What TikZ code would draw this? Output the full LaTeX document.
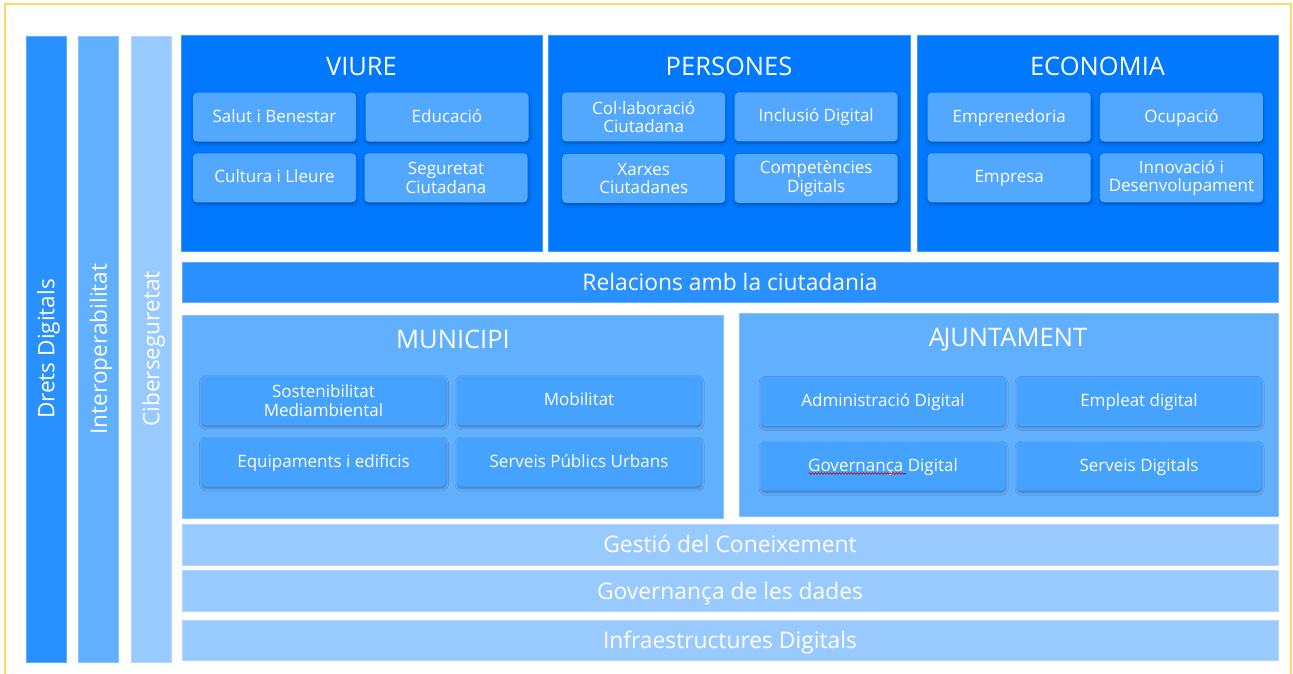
\documentclass[tikz,border=0pt]{standalone}
\usepackage{fontspec}
\setmainfont{Open Sans}
\usetikzlibrary{shadows.blur}
\usetikzlibrary{decorations.pathmorphing}

\definecolor{darkblue}{HTML}{0078FF}
\definecolor{midblue}{HTML}{2990FF}
\definecolor{lightblue}{HTML}{61AFFF}
\definecolor{paleblue}{HTML}{99CAFF}
\definecolor{topcell}{HTML}{52A7FF}
\definecolor{lowcell}{HTML}{45A2FF}
\definecolor{frameyellow}{HTML}{FFD966}

\begin{document}
\begin{tikzpicture}[x=1pt,y=-1pt,
	panel/.style={rectangle,fill=#1,draw=#1!75!white,line width=0.8,inner sep=0,outer sep=0},
	bar/.style={panel=#1,rotate=90,minimum width=626,minimum height=40,text=white,text height=16.5pt,text depth=0pt,
		font=\fontsize{22.6}{26}\selectfont},
	band/.style={panel=#1,minimum width=1096,minimum height=40.5,text=white,text height=16.5pt,text depth=0pt,
		font=\fontsize{22.8}{26}\selectfont},
	title/.style={text=white,inner sep=0,anchor=base,font=\fontsize{25.5}{30}\selectfont},
	cell/.style={rectangle,rounded corners=4,fill=#1,minimum height=49,inner sep=0,align=center,text=white,
		font=\fontsize{17}{18.5}\selectfont,
		blur shadow={shadow xshift=0.5pt,shadow yshift=-2pt,shadow blur radius=2.5pt,shadow opacity=28}},
	one/.style={text height=10pt,text depth=0pt},
	two/.style={}]
		\useasboundingbox (0,0) rectangle (1293,673);
		
		% draw yellow frame
		\draw[frameyellow,line width=1.5] (5,4) rectangle (1291,700);
		
		% draw vertical bars
		\node[bar=midblue] (drets) at (46,349) {Drets Digitals};
		\node[bar=lightblue] (interop) at (98.5,349) {Interoperabilitat};
		\node[bar=paleblue] (ciber) at (151,349) {Ciberseguretat};
		
		% draw top panels
		\node[panel=darkblue,minimum width=361,minimum height=216] (viure) at (361.5,143) {};
		\node[panel=darkblue,minimum width=362,minimum height=216] (persones) at (729,143) {};
		\node[panel=darkblue,minimum width=361,minimum height=216] (economia) at (1097.5,143) {};
		\node[title] (viure-t) at ([yshift=-40]viure.north) {VIURE};
		\node[title] (persones-t) at ([yshift=-40]persones.north) {PERSONES};
		\node[title] (economia-t) at ([yshift=-40]economia.north) {ECONOMIA};
		
		% draw cells of top panels
		\foreach \n/\x/\y/\s/\t in {viure-1/274.5/117.2/one/Salut i Benestar, viure-2/447/117.2/one/Educació,
			viure-3/274.5/177.8/one/Cultura i Lleure, viure-4/446/177.8/two/Seguretat\\Ciutadana,
			persones-1/643.7/116.9/two/Col·laboració\\Ciutadana, persones-2/816.2/116.9/one/Inclusió Digital,
			persones-3/643.7/178.4/two/Xarxes\\Ciutadanes, persones-4/816.2/178.4/two/Competències\\Digitals,
			economia-1/1009.2/117/one/Emprenedoria, economia-2/1181.4/117/one/Ocupació,
			economia-3/1009.2/177.8/one/Empresa, economia-4/1181.4/177.8/two/Innovació i\\Desenvolupament}
		{
			\node[cell=topcell,\s,minimum width=163] (\n) at (\x,\y) {\t};
		}
		
		% draw band
		\node[band=midblue] (relacions) at (730,282.5) {Relacions amb la ciutadania};
		
		% draw middle panels
		\node[panel=lightblue,minimum width=540.5,minimum height=203.5] (municipi) at (452.8,416.7) {};
		\node[panel=lightblue,minimum width=539.5,minimum height=203.5] (ajuntament) at (1008.8,415) {};
		\node[title] (municipi-t) at (453,348.3) {MUNICIPI};
		\node[title] (ajuntament-t) at (1008,346.7) {A\kern-1.5pt JUNTAMENT};
		
		% draw cells of middle panels
		\foreach \n/\x/\y/\s/\t in {municipi-1/323.5/400.8/two/Sostenibilitat\\Mediambiental, municipi-2/579/400.8/one/Mobilitat,
			municipi-3/323.5/462/one/Equipaments i edificis, municipi-4/579/462/one/Serveis Públics Urbans,
			ajuntament-1/883/401.3/one/Administració Digital, ajuntament-2/1139/401.3/one/Empleat digital,
			ajuntament-3/883/466.2/one/Governança Digital, ajuntament-4/1139/466.2/one/Serveis Digitals}
		{
			\node[cell=lowcell,\s,minimum width=244] (\n) at (\x,\y) {\t};
		}
		
		% red wavy line under Governança
		\draw[red!80!black,line width=0.6,decorate,decoration={snake,segment length=3,amplitude=0.8}] (808.5,473.5) -- (906,473.5);
		
		% draw bottom bands
		\node[band=paleblue] (gestio) at (730,544.7) {Gestió del Coneixement};
		\node[band=paleblue] (dades) at (730,590.8) {Governança de les dades};
		\node[band=paleblue] (infra) at (730,640.3) {Infraestructures Digitals};
	\end{tikzpicture}
\end{document}
